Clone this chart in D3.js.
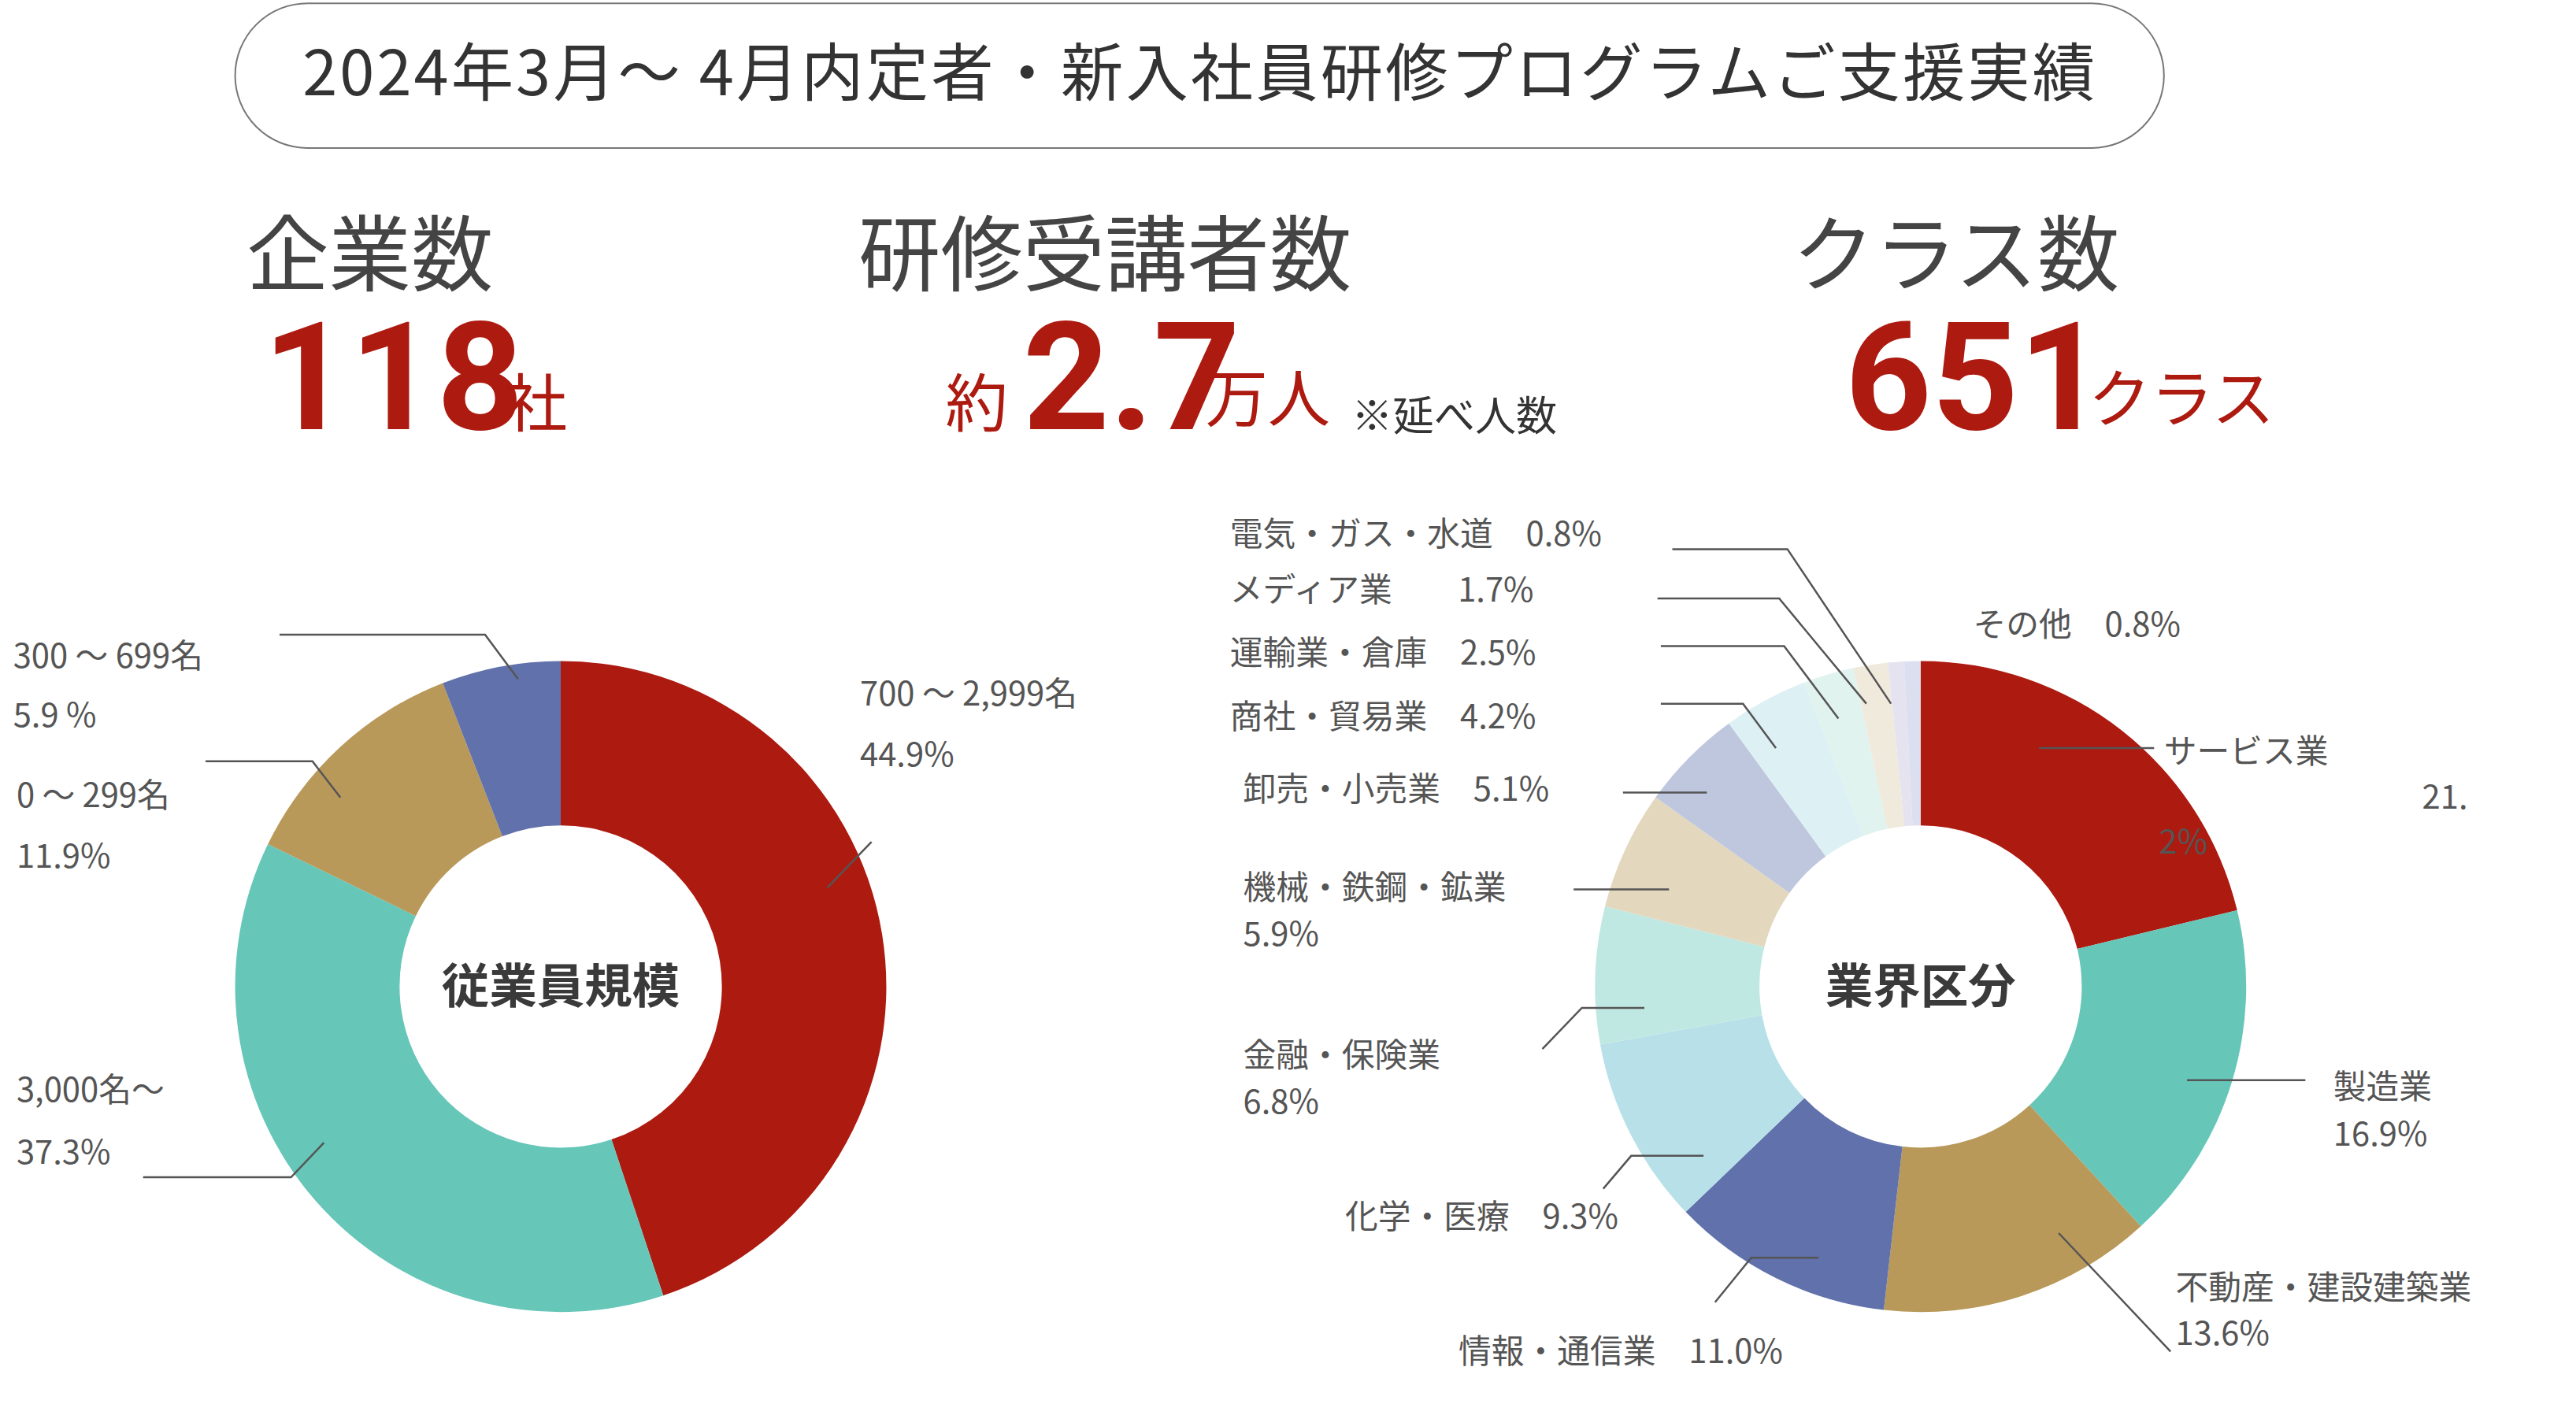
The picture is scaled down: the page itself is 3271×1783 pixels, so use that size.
<!DOCTYPE html><html><head><meta charset="utf-8">
<script src="https://cdn.jsdelivr.net/npm/d3@7"></script>
<style>body{margin:0;background:#fff}svg{font-family:"Noto Sans CJK JP","Noto Sans",sans-serif}</style></head><body>
<svg id="c" width="3271" height="1783"></svg>
<script>
const sizeCats=["700 〜 2,999名","3,000名〜","0 〜 299名","300 〜 699名"];
const sizeVals=[44.9,37.3,11.9,5.9];
const sizeColors=["#AD1A10","#66C6B8","#B8995A","#6171AB"];
const indCats=["サービス業","製造業","不動産・建設建築業","情報・通信業","化学・医療","金融・保険業","機械・鉄鋼・鉱業","卸売・小売業","商社・貿易業","運輸業・倉庫","メディア業","電気・ガス・水道","その他"];
const indVals=[21.2,16.9,13.6,11.0,9.3,6.8,5.9,5.1,4.2,2.5,1.7,0.8,0.8];
const indColors=["#AD1A10","#66C6B8","#B8995A","#6171AB","#B8E0E8","#C0E8E2","#E3D8BE","#BFC7DF","#DDF0F4","#E0F3EF","#F0EADD","#E6E3F0","#DCDFEF"];
const k=2.088;
const svg=d3.select("#c");
const T="#444";
const NUM='"Liberation Sans Narrow","Roboto",sans-serif';
svg.append("rect").attr("x",143*k).attr("y",2*k).attr("width",1173*k).attr("height",88*k).attr("rx",44*k).attr("fill","none").attr("stroke","#777").attr("stroke-width",2);
svg.append("text").attr("x",729*k).attr("y",58*k).attr("text-anchor","middle").attr("font-size",38*k).attr("fill","#333").attr("textLength",1090*k).text("2024年3月〜 4月内定者・新入社員研修プログラムご支援実績");
function t(x,y,s,txt,o={}){const e=svg.append("text").attr("x",x*k).attr("y",y*k).attr("font-size",s*k).attr("fill",o.fill||"#555").attr("font-weight",o.fw||400).text(txt);if(o.anchor)e.attr("text-anchor",o.anchor);if(o.ff)e.style("font-family",o.ff);return e;}
const R="#AD1A10";
t(150,173,50,"企業数",{fill:T});
t(160,261,92,"118",{fill:R,fw:700,ff:NUM});t(307,259,38,"社",{fill:R});
t(522,173,50,"研修受講者数",{fill:T});
t(575,259,38,"約",{fill:R});t(622,261,92,"2.7",{fill:R,fw:700,ff:NUM});t(733,256,38,"万人",{fill:R});t(822,262,25,"※延べ人数",{fill:"#333"});
t(1090,173,50,"クラス数",{fill:T});
t(1122,261,92,"651",{fill:R,fw:700,ff:NUM});t(1270,256,38,"クラス",{fill:R});
function donut(cx,cy,vals,cols,label){
  const pie=d3.pie().sort(null)(vals);
  const arc=d3.arc().innerRadius(98*k).outerRadius(198*k);
  const g=svg.append("g").attr("transform",`translate(${cx*k},${cy*k})`);
  g.selectAll("path").data(pie).join("path").attr("d",arc).attr("fill",(d,i)=>cols[i]);
  g.append("text").attr("text-anchor","middle").attr("dy","0.35em").attr("font-size",29*k).attr("font-weight",700).attr("fill","#3a3a3a").text(label);
}
donut(341,600,sizeVals,sizeColors,"従業員規模");
donut(1168,600,indVals,indColors,"業界区分");
function ln(pts){svg.append("path").attr("d",d3.line()(pts.map(p=>[p[0]*k,p[1]*k]))).attr("fill","none").attr("stroke","#555").attr("stroke-width",2.5);}
const f=(v)=>v.toFixed(1)+"%";
const L=20;
t(8,406,L,sizeCats[3]);t(8,442,L,"5.9 %");ln([[170,386],[295,386],[315,413]]);
t(10,491,L,sizeCats[2]);t(10,528,L,f(sizeVals[2]));ln([[125,463],[190,463],[207,485]]);
t(10,670,L,sizeCats[1]);t(10,708,L,f(sizeVals[1]));ln([[87,716],[177,716],[197,695]]);
t(523,429,L,sizeCats[0]);t(523,466,L,f(sizeVals[0]));ln([[503,540],[530,512]]);
t(748,332,L,indCats[11]+"　"+f(indVals[11]));ln([[1017,334],[1087,334],[1150,428]]);
t(748,366,L,indCats[10]+"　　"+f(indVals[10]));ln([[1008,364],[1082,364],[1135,428]]);
t(748,404,L,indCats[9]+"　"+f(indVals[9]));ln([[1010,393],[1085,393],[1118,437]]);
t(748,443,L,indCats[8]+"　"+f(indVals[8]));ln([[1010,428],[1060,428],[1080,455]]);
t(756,487,L,indCats[7]+"　"+f(indVals[7]));ln([[987,482],[1038,482]]);
t(756,547,L,indCats[6]);t(756,575,L,f(indVals[6]));ln([[957,541],[1015,541]]);
t(756,649,L,indCats[5]);t(756,677,L,f(indVals[5]));ln([[938,638],[962,613],[1000,613]]);
t(818,747,L,indCats[4]+"　"+f(indVals[4]));ln([[975,723],[992,703],[1036,703]]);
t(887,829,L,indCats[3]+"　"+f(indVals[3]));ln([[1043,792],[1065,765],[1106,765]]);
t(1323,790,L,indCats[2]);t(1323,818,L,f(indVals[2]));ln([[1252,750],[1320,822]]);
t(1419,668,L,indCats[1]);t(1419,697,L,f(indVals[1]));ln([[1330,657],[1402,657]]);
t(1316,464,L,indCats[0]);t(1473,492,L,"21.");t(1313,519,L,"2%");ln([[1240,455],[1310,455]]);
t(1200,387,L,indCats[12]+"　"+f(indVals[12]));
</script></body></html>
